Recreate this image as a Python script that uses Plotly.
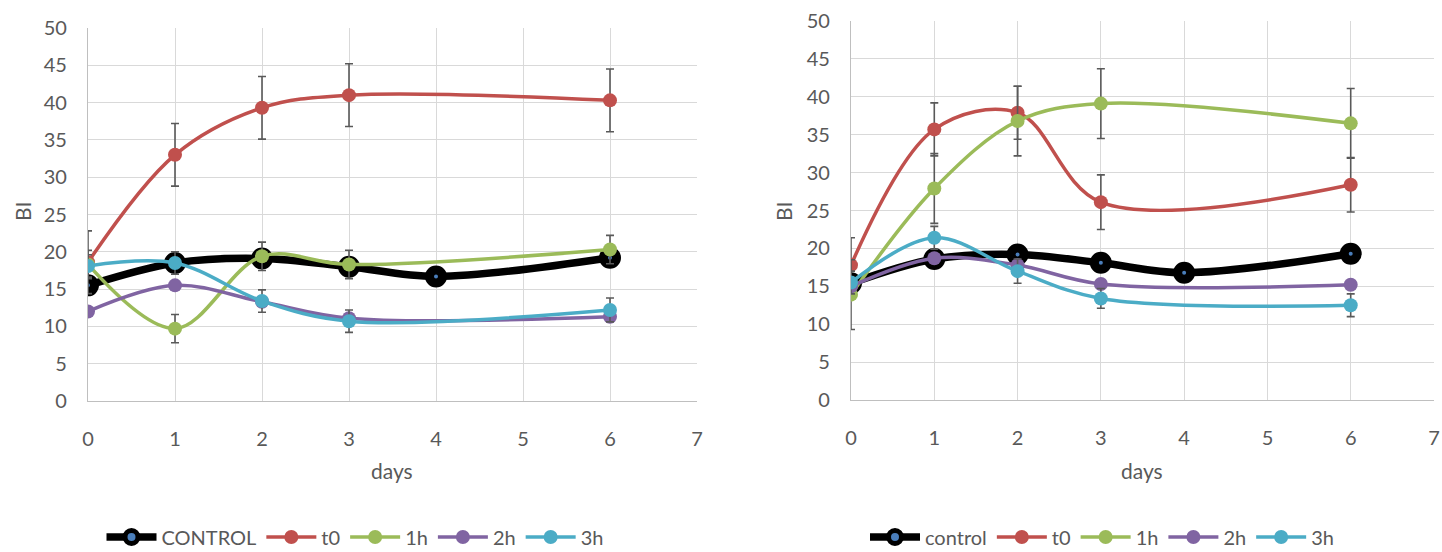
import plotly.graph_objects as go

# ---- data: BI over days, two experiments ----
days = [0, 1, 2, 3, 6]
control_days = [0, 1, 2, 3, 4, 6]

# left panel
a_control = [15.5, 18.5, 19.1, 18.0, 16.7, 19.2]
a_t0 = [18.6, 33.0, 39.3, 41.0, 40.3]
a_t0_err = [4.2, 4.2, 4.2, 4.2, 4.2]
a_1h = [18.3, 9.7, 19.4, 18.3, 20.3]
a_1h_err = [1.9, 1.9, 1.9, 1.9, 1.9]
a_2h = [12.0, 15.5, 13.3, 11.1, 11.3]
a_3h = [18.1, 18.5, 13.4, 10.7, 12.2]
a_3h_err = [1.5, 1.5, 1.5, 1.5, 1.6]

# right panel
b_control = [15.4, 18.6, 19.2, 18.1, 16.8, 19.3]
b_t0 = [17.8, 35.7, 37.9, 26.1, 28.4]
b_t0_err = [3.6, 3.5, 3.5, 3.6, 3.6]
b_1h = [13.9, 27.9, 36.8, 39.1, 36.5]
b_1h_err = [4.6, 4.6, 4.6, 4.6, 4.6]
b_2h = [15.0, 18.7, 17.8, 15.3, 15.2]
b_3h = [15.5, 21.4, 17.0, 13.4, 12.5]
b_3h_err = [1.5, 1.5, 1.6, 1.3, 1.5]

x_ticks = list(range(0, 8))
y_ticks = list(range(0, 55, 5))

COLORS = {"t0": "#C0504D", "1h": "#9BBB59", "2h": "#8064A2", "3h": "#4BACC6"}
FONT = "Liberation Sans Narrow, Arial Narrow, Lato, sans-serif"
TXT = "#595959"

fig = go.Figure()


def add_panel(xa, ya, legend, ctrl_name, ctrl, t0, t0e, h1, h1e, h2, h3, h3e):
    fig.add_trace(go.Scatter(
        x=control_days, y=ctrl, name=ctrl_name, xaxis=xa, yaxis=ya, legend=legend,
        mode="lines+markers",
        line=dict(color="black", width=7.5, shape="spline", smoothing=1),
        marker=dict(size=13, color="#4A7EBB", line=dict(color="black", width=9)),
    ))
    series = [("t0", t0, t0e), ("1h", h1, h1e), ("2h", h2, None), ("3h", h3, h3e)]
    for name, vals, err in series:
        fig.add_trace(go.Scatter(
            x=days, y=vals, name=name, xaxis=xa, yaxis=ya, legend=legend,
            mode="lines+markers",
            line=dict(color=COLORS[name], width=3.5, shape="spline", smoothing=1),
            marker=dict(size=14, color=COLORS[name]),
            error_y=(dict(type="data", array=err, color="#595959", thickness=1.6, width=4)
                     if err is not None else dict(visible=False)),
        ))


add_panel("x", "y", "legend", "CONTROL", a_control, a_t0, a_t0_err,
          a_1h, a_1h_err, a_2h, a_3h, a_3h_err)
add_panel("x2", "y2", "legend2", "control", b_control, b_t0, b_t0_err,
          b_1h, b_1h_err, b_2h, b_3h, b_3h_err)

W, H = 1442, 552

xcommon = dict(range=[0, 7], tickvals=x_ticks, showgrid=True, gridcolor="#D9D9D9",
               gridwidth=1.3, zeroline=False, showline=True, linecolor="#BFBFBF",
               linewidth=1.3, ticks="", tickfont=dict(family=FONT, size=20, color=TXT),
               ticklabelstandoff=20, fixedrange=True)
ycommon = dict(range=[0, 50], tickvals=y_ticks, showgrid=True, gridcolor="#D9D9D9",
               gridwidth=1.3, zeroline=False, showline=True, linecolor="#BFBFBF",
               linewidth=1.3, ticks="", tickfont=dict(family=FONT, size=20, color=TXT),
               ticklabelstandoff=16, fixedrange=True)

legend_common = dict(orientation="h", yanchor="middle", xanchor="center",
                     font=dict(family=FONT, size=20, color=TXT),
                     bgcolor="rgba(0,0,0,0)", itemwidth=50, tracegroupgap=0)


def title_note(text, x, y, angle=0):
    return dict(text=text, x=x / W, y=(H - y) / H, xref="paper", yref="paper",
                xanchor="center", yanchor="middle", showarrow=False,
                textangle=angle, font=dict(family=FONT, size=21, color=TXT))


fig.update_layout(
    width=W, height=H,
    margin=dict(l=0, r=0, t=0, b=0, autoexpand=False),
    paper_bgcolor="white", plot_bgcolor="white",
    xaxis=dict(domain=[88 / W, 697 / W], anchor="y", **xcommon),
    yaxis=dict(domain=[(H - 401) / H, (H - 28) / H], anchor="x", **ycommon),
    xaxis2=dict(domain=[851 / W, 1434 / W], anchor="y2", **xcommon),
    yaxis2=dict(domain=[(H - 400) / H, (H - 21) / H], anchor="x2", **ycommon),
    legend=dict(x=355 / W, y=(H - 537) / H, **legend_common),
    legend2=dict(x=1102 / W, y=(H - 537) / H, **legend_common),
    annotations=[
        title_note("BI", 22, 212, -90),
        title_note("BI", 783, 212, -90),
        title_note("days", 392, 470),
        title_note("days", 1142, 470),
    ],
)

fig.write_html("out.html")
